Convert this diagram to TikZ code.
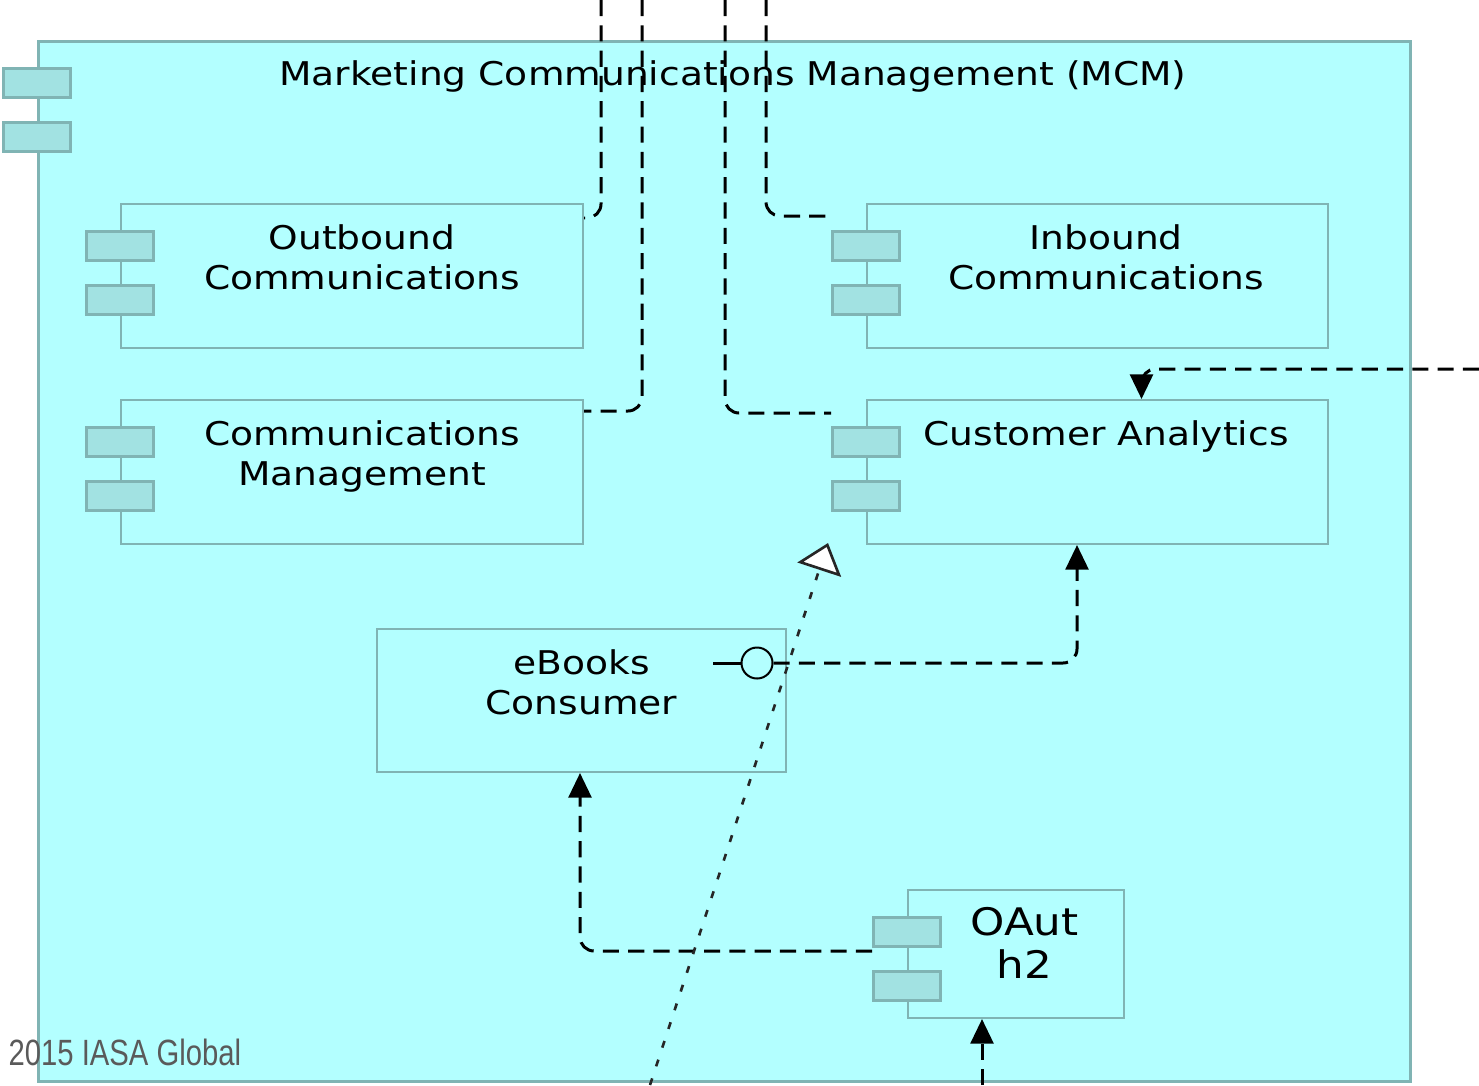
\documentclass[tikz,border=0pt]{standalone}
\usepackage{fontspec}
\usepackage{xcolor}
\usepackage{tikz}
\usetikzlibrary{positioning,calc,arrows.meta}

\newfontfamily\diafont[FakeStretch=1.15]{DejaVu Sans}
\newfontfamily\copyfont[FakeStretch=0.80]{Liberation Sans}

\definecolor{mcmfill}{HTML}{B3FFFF}
\definecolor{mcmline}{HTML}{80B4B4}
\definecolor{tabfill}{HTML}{A2E2E2}
\definecolor{copygray}{HTML}{5A5A5A}

\tikzset{
  comp/.style={draw=mcmline, fill=mcmfill, line width=0.57pt, inner sep=0pt},
  tab/.style={draw=mcmline, fill=tabfill, line width=0.85pt, minimum width=0.67cm, minimum height=0.29cm, inner sep=0pt},
  lbl/.style={font=\diafont\fontsize{9.3}{11.4}\selectfont, align=center, anchor=north, inner sep=0pt},
  dep/.style={black, line width=0.85pt, dash pattern=on 4.6pt off 2.6pt, rounded corners=4pt},
  real/.style={black!85, line width=0.75pt, dash pattern=on 2pt off 3.6pt},
  into/.style={-{Triangle[width=6.5pt,length=7pt]}},
}

% two little tabs on the left side of a component
\newcommand\comptabs[1]{%
  \node[tab] (#1-t1) at ($(#1.north west)+(0,-0.43)$) {};
  \node[tab] (#1-t2) at ($(#1.north west)+(0,-0.97)$) {};
}

\begin{document}
\begin{tikzpicture}
\useasboundingbox (0,0) rectangle (14.79,-10.85);

% the MCM package
\node[comp, line width=0.95pt, minimum width=13.72cm, minimum height=10.40cm] (mcm) at (7.245,-5.615) {};
\comptabs{mcm}
\node[lbl] (mcm-l) at ($(mcm.north)+(0.085,-0.20)$) {Marketing Communications Management (MCM)};

% components
\node[comp, minimum width=4.62cm, minimum height=1.44cm] (outbound) at (3.52,-2.76) {};
\comptabs{outbound}
\node[lbl] (outbound-l) at ($(outbound.north)+(0.10,-0.21)$) {Outbound\\Communications};

\node[comp, minimum width=4.61cm, minimum height=1.44cm] (inbound) at (10.975,-2.76) {};
\comptabs{inbound}
\node[lbl] (inbound-l) at ($(inbound.north)+(0.085,-0.21)$) {Inbound\\Communications};

\node[comp, minimum width=4.62cm, minimum height=1.44cm] (commgmt) at (3.52,-4.72) {};
\comptabs{commgmt}
\node[lbl] (commgmt-l) at ($(commgmt.north)+(0.10,-0.21)$) {Communications\\Management};

\node[comp, minimum width=4.61cm, minimum height=1.44cm] (custan) at (10.975,-4.72) {};
\comptabs{custan}
\node[lbl] (custan-l) at ($(custan.north)+(0.085,-0.21)$) {Customer Analytics};

\node[comp, minimum width=4.09cm, minimum height=1.43cm] (ebooks) at (5.815,-7.005) {};
\node[lbl] (ebooks-l) at ($(ebooks.north)+(0,-0.21)$) {eBooks\\Consumer};

\node[comp, minimum width=2.16cm, minimum height=1.28cm] (oauth) at (10.16,-9.54) {};
\comptabs{oauth}
\node[lbl, font=\diafont\fontsize{10.8}{12.2}\selectfont] (oauth-l) at ($(oauth.north)+(0.085,-0.18)$) {OAut\\h2};

% provided interface of eBooks Consumer
\node[circle, draw, black, line width=0.57pt, minimum size=0.31cm, inner sep=0pt] (ebooks-c) at ($(ebooks.north east)+(-0.30,-0.35)$) {};
\coordinate (ebooks-s) at ($(ebooks-c)+(-0.44,0)$);
\draw[black, line width=0.85pt] (ebooks-s) -- (ebooks-c.west);

% free ends at the picture border
\coordinate (topa) at (6.01,0);
\coordinate (topb) at (6.42,0);
\coordinate (topc) at (7.25,0);
\coordinate (topd) at (7.66,0);
\coordinate (rightin) at (14.79,-3.69);
\coordinate (bota) at (6.50,-10.85);
\coordinate (botb) at (9.82,-10.85);
\coordinate (realtip) at (8.28,-5.43);

% dependencies
\draw[dep] (topa) |- ($(outbound.north east)+(0,-0.15)$);
\draw[dep] (topb) |- ($(commgmt.north east)+(0,-0.12)$);
\draw[dep] (topc) |- ($(custan-t1.north west)+(0,0.13)$);
\draw[dep] (topd) |- ($(inbound-t1.north west)+(0,0.14)$);
\draw[dep, into] (rightin) -| ($(custan.north)+(0.44,0)$);
\draw[dep, into] (ebooks-c.east) -| ($(custan.south)+(-0.205,0)$);
\draw[dep, into] ($(oauth-t1.south west)+(0,-0.03)$) -| ($(ebooks.south)+(-0.015,0)$);
\draw[dep, into] (botb) -- (botb |- oauth.south);

% realization
\draw[real, -{Triangle[open, fill=white, width=13pt, length=8pt]}] (bota) -- (realtip);

\node[anchor=base west, font=\copyfont\fontsize{10.4}{11}\selectfont, text=copygray, inner sep=0pt] (copy) at (0.08,-10.65) {2015 IASA Global};
\end{tikzpicture}
\end{document}
